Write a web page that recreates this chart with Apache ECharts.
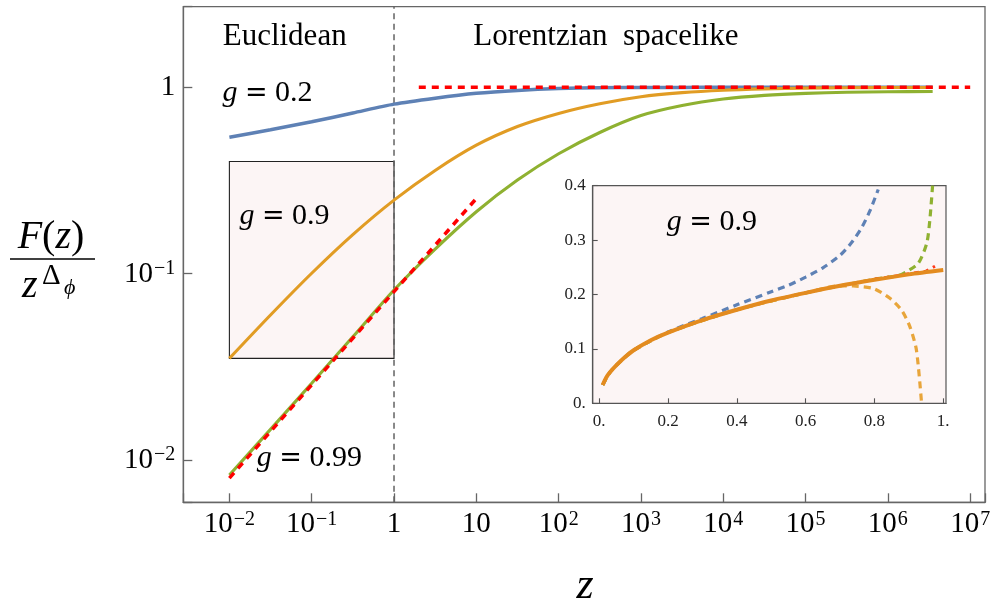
<!DOCTYPE html>
<html><head><meta charset="utf-8">
<script src="https://cdn.jsdelivr.net/npm/echarts@6/dist/echarts.min.js"></script>
<style>html,body{margin:0;padding:0;background:#fff}#c{width:990px;height:603px}</style>
</head><body><div id="c"></div>
<script>
// ---------- main panel (log-log) ----------
const zMain     = [0.01, 0.0316, 0.1, 0.316, 1, 3.16, 10, 31.6, 100, 316, 1000, 3160, 1e4, 3.16e4, 1e5, 3.16e5, 1e6, 3.5e6];
const blueG02   = [0.539, 0.592, 0.653, 0.728, 0.812, 0.874, 0.928, 0.962, 0.984, 0.994, 0.998, 0.999, 1, 1, 1, 1, 1, 1];
const orangeG09 = [0.0351, 0.060, 0.1005, 0.162, 0.248, 0.358, 0.489, 0.616, 0.724, 0.816, 0.890, 0.936, 0.965, 0.981, 0.990, 0.994, 0.9966, 0.998];
const greenG099 = [0.0083, 0.0146, 0.0258, 0.0458, 0.0817, 0.1355, 0.215, 0.318, 0.44, 0.572, 0.705, 0.798, 0.865, 0.905, 0.928, 0.94, 0.946, 0.949];
const redUpperZ = [2, 1e7];
const redUpperY = [1, 1];
const redLowerZ = [0.01, 0.1, 1, 10];
const redLowerY = [0.008, 0.0253, 0.08, 0.253];
const boxZ = [0.01, 1];
const boxY = [0.0351, 0.4];
const xTickLabels = ['{b|10}{s|\u22122}', '{b|10}{s|\u22121}', '{b|1}', '{b|10}', '{b|10}{s|2}', '{b|10}{s|3}', '{b|10}{s|4}', '{b|10}{s|5}', '{b|10}{s|6}', '{b|10}{s|7}'];
const yTickLabels = ['{b|10}{s|\u22122}', '{b|10}{s|\u22121}', '{b|1}'];

// ---------- inset (linear) ----------
const insetX      = [0.01, 0.02, 0.03, 0.05, 0.075, 0.1, 0.15, 0.2, 0.3, 0.4, 0.5, 0.6, 0.7, 0.8, 0.9, 1.0];
const insetSolid  = [0.0337, 0.047, 0.056, 0.070, 0.085, 0.0975, 0.116, 0.130, 0.153, 0.172, 0.189, 0.203, 0.216, 0.227, 0.237, 0.245];
const blueDashX   = [0.01, 0.03, 0.05, 0.1, 0.2, 0.3, 0.4, 0.5, 0.55, 0.6, 0.65, 0.7, 0.733, 0.763, 0.787, 0.811];
const blueDashY   = [0.0337, 0.056, 0.070, 0.0975, 0.131, 0.156, 0.181, 0.205, 0.217, 0.232, 0.249, 0.272, 0.295, 0.323, 0.354, 0.393];
const greenDashX  = [0.01, 0.03, 0.05, 0.1, 0.2, 0.4, 0.6, 0.8, 0.87, 0.893, 0.927, 0.952, 0.961, 0.969];
const greenDashY  = [0.0337, 0.056, 0.070, 0.0975, 0.130, 0.172, 0.203, 0.228, 0.235, 0.242, 0.257, 0.294, 0.337, 0.40];
const orangeDashX = [0.01, 0.03, 0.05, 0.1, 0.2, 0.4, 0.6, 0.7, 0.738, 0.797, 0.845, 0.879, 0.903, 0.922, 0.937];
const orangeDashY = [0.0337, 0.056, 0.070, 0.0975, 0.130, 0.172, 0.203, 0.216, 0.2156, 0.211, 0.193, 0.171, 0.141, 0.098, 0.0];
const redDashX    = [0.8, 0.9, 0.95, 0.976];
const redDashY    = [0.228, 0.238, 0.243, 0.252];
const insetXTicks  = [0, 0.2, 0.4, 0.6, 0.8, 1];
const insetXLabels = ['0.', '0.2', '0.4', '0.6', '0.8', '1.'];
const insetYTicks  = [0, 0.1, 0.2, 0.3, 0.4];
const insetYLabels = ['0.', '0.1', '0.2', '0.3', '0.4'];

const SERIF = '"Liberation Serif", "DejaVu Serif", serif';
const DEJA = '"DejaVu Serif", serif';
const zip = (a, b) => a.map((v, i) => [v, b[i]]);
const X_MIN = Math.pow(10, -2.56), X_MAX = Math.pow(10, 7.18);
const Y_MIN = Math.pow(10, -2.227), Y_MAX = Math.pow(10, 0.4325);

function logLabel(arr) {
  return function (v) {
    const l = Math.log10(v), e = Math.round(l);
    if (Math.abs(l - e) > 1e-6) return '';
    return arr[e + 2] || '';
  };
}
const tickRich = {
  b: { fontFamily: SERIF, fontSize: 29, lineHeight: 30, verticalAlign: 'bottom', color: '#000' },
  s: { fontFamily: SERIF, fontSize: 20, lineHeight: 11, verticalAlign: 'top', color: '#000', padding: [0, 0, 0, 1] }
};
function lookup(ticks, labels) {
  return function (v) {
    const i = ticks.findIndex(t => Math.abs(t - v) < 1e-9);
    return i < 0 ? '' : labels[i];
  };
}
const gRich = {
  i: { fontFamily: SERIF, fontSize: 30, fontStyle: 'italic' },
  e: { fontFamily: DEJA, fontSize: 27 }
};
function gText(x, y, s) {
  return { type: 'text', x: x, y: y, z: 20, style: { text: '{i|g} {e|=} ' + s, fontFamily: SERIF, fontSize: 30, fill: '#000', verticalAlign: 'middle', rich: gRich } };
}
const frameCol = '#666';
const SM = 0.25;

const chart = echarts.init(document.getElementById('c'), null, { renderer: 'canvas' });
const option = {
  animation: false,
  backgroundColor: '#fff',
  grid: [
    { left: 183.3, top: 6.7, right: 5, bottom: 100.7, show: true, borderColor: frameCol, borderWidth: 1.3, backgroundColor: 'transparent', containLabel: false, outerBoundsMode: 'none' },
    { left: 592.7, top: 185.7, width: 353.3, height: 217.6, show: true, borderColor: '#555', borderWidth: 1.2, backgroundColor: '#fcf5f5', containLabel: false, outerBoundsMode: 'none', z: 5 }
  ],
  xAxis: [
    { type: 'log', logBase: 10, gridIndex: 0, min: X_MIN, max: X_MAX, splitNumber: 10,
      axisLine: { show: true, onZero: false, lineStyle: { color: frameCol, width: 1.3 } },
      axisTick: { show: true, inside: true, length: 9, lineStyle: { color: frameCol, width: 1.3 } },
      minorTick: { show: false }, splitLine: { show: false },
      axisLabel: { margin: 7, formatter: logLabel(xTickLabels), rich: tickRich, showMinLabel: true, showMaxLabel: true, hideOverlap: false } },
    { type: 'value', gridIndex: 1, min: -0.019, max: 1.008,
      axisLine: { show: true, onZero: false, lineStyle: { color: '#555', width: 1.2 } },
      axisTick: { show: true, inside: true, length: 5, customValues: insetXTicks, lineStyle: { color: '#555', width: 1.1 } },
      splitLine: { show: false },
      axisLabel: { customValues: insetXTicks, formatter: lookup(insetXTicks, insetXLabels), margin: 10, fontFamily: SERIF, fontSize: 17, color: '#222' },
      z: 5 }
  ],
  yAxis: [
    { type: 'log', logBase: 10, gridIndex: 0, min: Y_MIN, max: Y_MAX, splitNumber: 10,
      axisLine: { show: true, onZero: false, lineStyle: { color: frameCol, width: 1.3 } },
      axisTick: { show: true, inside: true, length: 9, lineStyle: { color: frameCol, width: 1.3 } },
      minorTick: { show: false }, splitLine: { show: false },
      axisLabel: { margin: 8, formatter: logLabel(yTickLabels), rich: tickRich, showMinLabel: true, showMaxLabel: true } },
    { type: 'value', gridIndex: 1, min: 0, max: 0.4, interval: 0.1,
      axisLine: { show: true, onZero: false, lineStyle: { color: '#555', width: 1.2 } },
      axisTick: { show: true, inside: true, length: 5, lineStyle: { color: '#555', width: 1.1 } },
      splitLine: { show: false },
      axisLabel: { formatter: lookup(insetYTicks, insetYLabels), margin: 7, fontFamily: SERIF, fontSize: 17, color: '#222' },
      z: 5 }
  ],
  series: [
    { name: 'box', type: 'line', xAxisIndex: 0, yAxisIndex: 0, data: [], z: 1,
      markArea: { silent: true, itemStyle: { color: '#fcf5f5', borderColor: '#222', borderWidth: 1.1 },
        data: [[{ xAxis: boxZ[0], yAxis: boxY[0] }, { xAxis: boxZ[1], yAxis: boxY[1] }]] } },
    { name: 'divider', type: 'line', xAxisIndex: 0, yAxisIndex: 0, data: [[1, Y_MIN], [1, Y_MAX]], showSymbol: false, z: 2,
      lineStyle: { color: '#636363', width: 1.5, type: [6, 4.5] } },
    { name: 'g=0.2', type: 'line', xAxisIndex: 0, yAxisIndex: 0, data: zip(zMain, blueG02), showSymbol: false, smooth: SM, z: 3,
      lineStyle: { color: '#5e81b5', width: 3.5 } },
    { name: 'g=0.9', type: 'line', xAxisIndex: 0, yAxisIndex: 0, data: zip(zMain, orangeG09), showSymbol: false, smooth: SM, z: 3,
      lineStyle: { color: '#e19c24', width: 3.1 } },
    { name: 'g=0.99', type: 'line', xAxisIndex: 0, yAxisIndex: 0, data: zip(zMain, greenG099), showSymbol: false, smooth: SM, z: 3,
      lineStyle: { color: '#8fb131', width: 3.1 } },
    { name: 'asym1', type: 'line', xAxisIndex: 0, yAxisIndex: 0, data: zip(redUpperZ, redUpperY), showSymbol: false, z: 4,
      lineStyle: { color: '#ff0000', width: 3.5, type: [7, 6] } },
    { name: 'asym2', type: 'line', xAxisIndex: 0, yAxisIndex: 0, data: zip(redLowerZ, redLowerY), showSymbol: false, z: 4,
      lineStyle: { color: '#ff0000', width: 3.5, type: [7, 6] } },
    // inset
    { name: 'in-blue', type: 'line', xAxisIndex: 1, yAxisIndex: 1, data: zip(blueDashX, blueDashY), showSymbol: false, smooth: SM, z: 6,
      lineStyle: { color: '#5e81b5', width: 3.2, type: [7, 5] } },
    { name: 'in-green', type: 'line', xAxisIndex: 1, yAxisIndex: 1, data: zip(greenDashX, greenDashY), showSymbol: false, smooth: SM, z: 6,
      lineStyle: { color: '#8fb131', width: 3.2, type: [7, 5] } },
    { name: 'in-orange', type: 'line', xAxisIndex: 1, yAxisIndex: 1, data: zip(orangeDashX, orangeDashY), showSymbol: false, smooth: SM, z: 6,
      lineStyle: { color: '#e8a53a', width: 3.2, type: [7, 5] } },
    { name: 'in-red', type: 'line', xAxisIndex: 1, yAxisIndex: 1, data: zip(redDashX, redDashY), showSymbol: false, z: 6,
      lineStyle: { color: '#ff3b1a', width: 3, type: [5, 5] } },
    { name: 'in-solid', type: 'line', xAxisIndex: 1, yAxisIndex: 1, data: zip(insetX, insetSolid), showSymbol: false, smooth: SM, z: 7,
      lineStyle: { color: '#e38b1f', width: 4 } }
  ],
  graphic: [
    { type: 'text', x: 222.7, y: 37, z: 20, style: { text: 'Euclidean', fontFamily: SERIF, fontSize: 31, fill: '#000', verticalAlign: 'middle' } },
    { type: 'text', x: 473.3, y: 37, z: 20, style: { text: 'Lorentzian\u2002spacelike', fontFamily: SERIF, fontSize: 31, fill: '#000', verticalAlign: 'middle' } },
    gText(222.5, 93.5, '0.2'),
    gText(239.5, 216.5, '0.9'),
    gText(256.8, 458.5, '0.99'),
    gText(666.8, 222.5, '0.9'),
    // y-axis title: F(z) / z^{Δφ}
    { type: 'text', x: 51, y: 237, z: 20, style: { text: '{i|F}({i|z})', fontFamily: SERIF, fontSize: 40, fill: '#000', align: 'center', verticalAlign: 'middle',
        rich: { i: { fontFamily: SERIF, fontSize: 40, fontStyle: 'italic' } } } },
    { type: 'line', z: 20, shape: { x1: 10, y1: 259, x2: 95, y2: 259 }, style: { stroke: '#000', lineWidth: 1.5 } },
    { type: 'text', x: 22, y: 286, z: 20, style: { text: 'z', fontFamily: SERIF, fontSize: 40, fontStyle: 'italic', fill: '#000', verticalAlign: 'middle' } },
    { type: 'text', x: 42, y: 276, z: 20, style: { text: '\u0394', fontFamily: SERIF, fontSize: 29, fill: '#000', verticalAlign: 'middle' } },
    { type: 'text', x: 64, y: 288, z: 20, style: { text: '\u03D5', fontFamily: SERIF, fontSize: 22, fontStyle: 'italic', fill: '#000', verticalAlign: 'middle' } },
    // x-axis title
    { type: 'text', x: 585, y: 586, z: 20, style: { text: 'z', fontFamily: SERIF, fontSize: 44, fontStyle: 'italic', fill: '#000', align: 'center', verticalAlign: 'middle' } }
  ]
};
chart.setOption(option);
</script>
</body></html>
